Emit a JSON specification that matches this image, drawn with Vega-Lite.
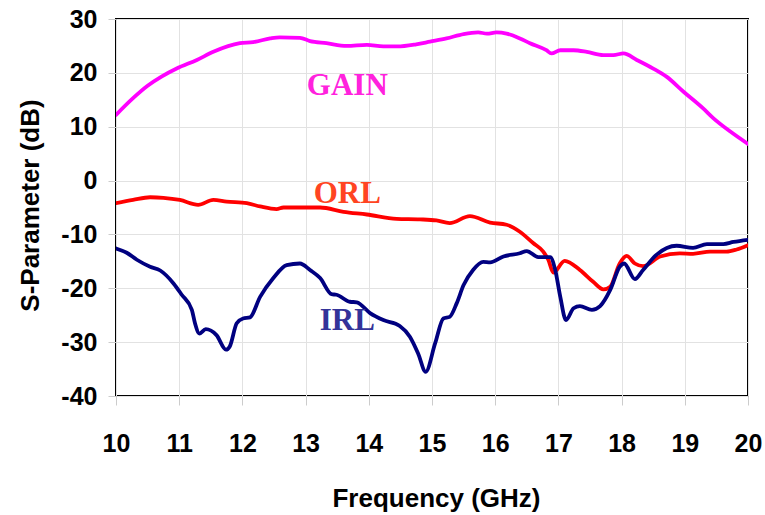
{
  "$schema": "https://vega.github.io/schema/vega-lite/v6.json",
  "width": 632,
  "height": 377,
  "autosize": {"type": "none"},
  "padding": {"left": 116, "top": 19, "right": 17, "bottom": 119},
  "background": "white",
  "config": {
    "view": {"stroke": "black", "strokeWidth": 2},
    "axis": {
      "labelFont": "Liberation Sans",
      "titleFont": "Liberation Sans",
      "labelFontWeight": "bold",
      "titleFontWeight": "bold",
      "labelColor": "black",
      "titleColor": "black",
      "gridColor": "#e2e2e2",
      "gridWidth": 1,
      "tickColor": "#cccccc",
      "domain": false
    }
  },
  "datasets": {
    "curves": [
      {"s": "GAIN", "f": 10.00, "v": 12.2}, {"s": "GAIN", "f": 10.27, "v": 15.3}, {"s": "GAIN", "f": 10.50, "v": 17.6},
      {"s": "GAIN", "f": 10.72, "v": 19.3}, {"s": "GAIN", "f": 10.96, "v": 20.8}, {"s": "GAIN", "f": 11.28, "v": 22.4},
      {"s": "GAIN", "f": 11.54, "v": 23.9}, {"s": "GAIN", "f": 11.96, "v": 25.5}, {"s": "GAIN", "f": 12.17, "v": 25.7},
      {"s": "GAIN", "f": 12.44, "v": 26.4}, {"s": "GAIN", "f": 12.59, "v": 26.6}, {"s": "GAIN", "f": 12.91, "v": 26.5},
      {"s": "GAIN", "f": 13.07, "v": 25.9}, {"s": "GAIN", "f": 13.33, "v": 25.5}, {"s": "GAIN", "f": 13.65, "v": 25.0},
      {"s": "GAIN", "f": 13.97, "v": 25.2}, {"s": "GAIN", "f": 14.23, "v": 24.9}, {"s": "GAIN", "f": 14.45, "v": 24.9},
      {"s": "GAIN", "f": 14.75, "v": 25.3}, {"s": "GAIN", "f": 14.97, "v": 25.8}, {"s": "GAIN", "f": 15.23, "v": 26.4},
      {"s": "GAIN", "f": 15.50, "v": 27.2}, {"s": "GAIN", "f": 15.73, "v": 27.5}, {"s": "GAIN", "f": 15.87, "v": 27.3},
      {"s": "GAIN", "f": 16.02, "v": 27.5}, {"s": "GAIN", "f": 16.18, "v": 27.3}, {"s": "GAIN", "f": 16.39, "v": 26.4},
      {"s": "GAIN", "f": 16.55, "v": 25.5}, {"s": "GAIN", "f": 16.81, "v": 24.2}, {"s": "GAIN", "f": 16.89, "v": 23.6},
      {"s": "GAIN", "f": 17.03, "v": 24.2}, {"s": "GAIN", "f": 17.24, "v": 24.2}, {"s": "GAIN", "f": 17.45, "v": 23.9},
      {"s": "GAIN", "f": 17.71, "v": 23.3}, {"s": "GAIN", "f": 17.87, "v": 23.3}, {"s": "GAIN", "f": 18.03, "v": 23.6},
      {"s": "GAIN", "f": 18.24, "v": 22.4}, {"s": "GAIN", "f": 18.50, "v": 20.8}, {"s": "GAIN", "f": 18.71, "v": 19.3},
      {"s": "GAIN", "f": 18.98, "v": 16.5}, {"s": "GAIN", "f": 19.29, "v": 13.4}, {"s": "GAIN", "f": 19.45, "v": 11.6},
      {"s": "GAIN", "f": 19.72, "v": 9.1}, {"s": "GAIN", "f": 20.00, "v": 6.8},

      {"s": "ORL", "f": 10.00, "v": -4.2}, {"s": "ORL", "f": 10.27, "v": -3.6}, {"s": "ORL", "f": 10.54, "v": -3.1},
      {"s": "ORL", "f": 10.75, "v": -3.2}, {"s": "ORL", "f": 11.01, "v": -3.6}, {"s": "ORL", "f": 11.30, "v": -4.5},
      {"s": "ORL", "f": 11.54, "v": -3.6}, {"s": "ORL", "f": 11.75, "v": -3.9}, {"s": "ORL", "f": 12.07, "v": -4.2},
      {"s": "ORL", "f": 12.28, "v": -4.8}, {"s": "ORL", "f": 12.54, "v": -5.3}, {"s": "ORL", "f": 12.65, "v": -5.0},
      {"s": "ORL", "f": 13.23, "v": -5.0}, {"s": "ORL", "f": 13.60, "v": -5.8}, {"s": "ORL", "f": 13.97, "v": -6.3},
      {"s": "ORL", "f": 14.44, "v": -7.1}, {"s": "ORL", "f": 14.81, "v": -7.2}, {"s": "ORL", "f": 15.07, "v": -7.4},
      {"s": "ORL", "f": 15.28, "v": -7.9}, {"s": "ORL", "f": 15.60, "v": -6.6}, {"s": "ORL", "f": 15.92, "v": -7.8},
      {"s": "ORL", "f": 16.18, "v": -8.2}, {"s": "ORL", "f": 16.39, "v": -9.5}, {"s": "ORL", "f": 16.60, "v": -11.6},
      {"s": "ORL", "f": 16.76, "v": -13.2}, {"s": "ORL", "f": 16.84, "v": -14.7}, {"s": "ORL", "f": 16.92, "v": -17.1},
      {"s": "ORL", "f": 17.10, "v": -14.9}, {"s": "ORL", "f": 17.34, "v": -16.6}, {"s": "ORL", "f": 17.55, "v": -18.8},
      {"s": "ORL", "f": 17.71, "v": -20.2}, {"s": "ORL", "f": 17.82, "v": -19.7}, {"s": "ORL", "f": 17.97, "v": -15.4},
      {"s": "ORL", "f": 18.08, "v": -14.0}, {"s": "ORL", "f": 18.21, "v": -15.4}, {"s": "ORL", "f": 18.34, "v": -15.9},
      {"s": "ORL", "f": 18.61, "v": -14.1}, {"s": "ORL", "f": 18.92, "v": -13.5}, {"s": "ORL", "f": 19.13, "v": -13.6},
      {"s": "ORL", "f": 19.40, "v": -13.2}, {"s": "ORL", "f": 19.66, "v": -13.2}, {"s": "ORL", "f": 19.82, "v": -12.8},
      {"s": "ORL", "f": 20.00, "v": -12.0},

      {"s": "IRL", "f": 10.00, "v": -12.6}, {"s": "IRL", "f": 10.17, "v": -13.4}, {"s": "IRL", "f": 10.33, "v": -14.7},
      {"s": "IRL", "f": 10.54, "v": -16.0}, {"s": "IRL", "f": 10.70, "v": -16.7}, {"s": "IRL", "f": 10.91, "v": -19.1},
      {"s": "IRL", "f": 11.04, "v": -21.2}, {"s": "IRL", "f": 11.20, "v": -24.0}, {"s": "IRL", "f": 11.25, "v": -26.5},
      {"s": "IRL", "f": 11.32, "v": -28.4}, {"s": "IRL", "f": 11.42, "v": -27.6}, {"s": "IRL", "f": 11.59, "v": -28.7},
      {"s": "IRL", "f": 11.74, "v": -31.4}, {"s": "IRL", "f": 11.80, "v": -30.8}, {"s": "IRL", "f": 11.91, "v": -26.5},
      {"s": "IRL", "f": 12.01, "v": -25.6}, {"s": "IRL", "f": 12.12, "v": -25.4}, {"s": "IRL", "f": 12.28, "v": -21.6},
      {"s": "IRL", "f": 12.49, "v": -18.1}, {"s": "IRL", "f": 12.70, "v": -15.7}, {"s": "IRL", "f": 12.91, "v": -15.4},
      {"s": "IRL", "f": 13.07, "v": -16.6}, {"s": "IRL", "f": 13.23, "v": -18.1}, {"s": "IRL", "f": 13.41, "v": -21.1},
      {"s": "IRL", "f": 13.49, "v": -21.2}, {"s": "IRL", "f": 13.70, "v": -22.5}, {"s": "IRL", "f": 13.81, "v": -22.6},
      {"s": "IRL", "f": 14.02, "v": -24.6}, {"s": "IRL", "f": 14.23, "v": -25.9}, {"s": "IRL", "f": 14.49, "v": -27.0},
      {"s": "IRL", "f": 14.65, "v": -29.0}, {"s": "IRL", "f": 14.78, "v": -32.1}, {"s": "IRL", "f": 14.90, "v": -35.5},
      {"s": "IRL", "f": 15.05, "v": -30.2}, {"s": "IRL", "f": 15.18, "v": -25.6}, {"s": "IRL", "f": 15.28, "v": -25.3},
      {"s": "IRL", "f": 15.39, "v": -22.8}, {"s": "IRL", "f": 15.50, "v": -19.4}, {"s": "IRL", "f": 15.65, "v": -16.6},
      {"s": "IRL", "f": 15.81, "v": -15.1}, {"s": "IRL", "f": 15.92, "v": -15.2}, {"s": "IRL", "f": 16.13, "v": -14.1},
      {"s": "IRL", "f": 16.39, "v": -13.5}, {"s": "IRL", "f": 16.50, "v": -13.1}, {"s": "IRL", "f": 16.68, "v": -14.2},
      {"s": "IRL", "f": 16.87, "v": -14.2}, {"s": "IRL", "f": 16.95, "v": -16.6}, {"s": "IRL", "f": 17.03, "v": -21.6},
      {"s": "IRL", "f": 17.12, "v": -25.9}, {"s": "IRL", "f": 17.24, "v": -23.7}, {"s": "IRL", "f": 17.34, "v": -23.3},
      {"s": "IRL", "f": 17.53, "v": -24.0}, {"s": "IRL", "f": 17.66, "v": -23.3}, {"s": "IRL", "f": 17.82, "v": -20.3},
      {"s": "IRL", "f": 17.97, "v": -16.0}, {"s": "IRL", "f": 18.04, "v": -15.4}, {"s": "IRL", "f": 18.21, "v": -18.3},
      {"s": "IRL", "f": 18.34, "v": -16.6}, {"s": "IRL", "f": 18.55, "v": -13.8}, {"s": "IRL", "f": 18.87, "v": -12.1},
      {"s": "IRL", "f": 19.13, "v": -12.5}, {"s": "IRL", "f": 19.35, "v": -11.8}, {"s": "IRL", "f": 19.61, "v": -11.8},
      {"s": "IRL", "f": 19.77, "v": -11.4}, {"s": "IRL", "f": 20.00, "v": -11.0}
    ],
    "labels": [
      {"t": "GAIN", "f": 13.66, "v": 15.9},
      {"t": "ORL", "f": 13.66, "v": -4.2},
      {"t": "IRL", "f": 13.66, "v": -27.8}
    ]
  },
  "layer": [
    {
      "data": {"name": "curves"},
      "mark": {"type": "line", "strokeWidth": 3.8, "interpolate": "monotone", "strokeJoin": "round", "strokeCap": "round", "clip": true},
      "encoding": {
        "x": {
          "field": "f", "type": "quantitative",
          "scale": {"domain": [10, 20], "nice": false, "zero": false},
          "axis": {
            "values": [10, 11, 12, 13, 14, 15, 16, 17, 18, 19, 20],
            "labelExpr": "datum.value + ''",
            "title": "Frequency (GHz)",
            "labelFontSize": 25,
            "labelPadding": 26,
            "tickSize": 9,
            "labelFlush": false,
            "titleFontSize": 26,
            "titleBaseline": "alphabetic",
            "titleAnchor": "middle",
            "titleX": 320,
            "titleY": 110
          }
        },
        "y": {
          "field": "v", "type": "quantitative",
          "scale": {"domain": [-40, 30], "nice": false, "zero": false},
          "axis": {
            "values": [-40, -30, -20, -10, 0, 10, 20, 30],
            "labelExpr": "datum.value + ''",
            "title": "S-Parameter (dB)",
            "labelFontSize": 25,
            "labelPadding": 11,
            "tickSize": 8,
            "labelFlush": false,
            "titleFontSize": 26,
            "titleAngle": -90,
            "titleBaseline": "alphabetic",
            "titleAlign": "center",
            "titleX": -78,
            "titleY": 186
          }
        },
        "color": {
          "field": "s", "type": "nominal",
          "scale": {"domain": ["GAIN", "ORL", "IRL"], "range": ["#ff00ff", "#ff0000", "#000080"]},
          "legend": null
        },
        "detail": {"field": "s"}
      }
    },
    {
      "data": {"name": "labels"},
      "mark": {"type": "text", "font": "Liberation Serif", "fontWeight": "bold", "fontSize": 31, "align": "center", "baseline": "alphabetic"},
      "encoding": {
        "x": {"field": "f", "type": "quantitative"},
        "y": {"field": "v", "type": "quantitative"},
        "text": {"field": "t"},
        "color": {
          "field": "t", "type": "nominal",
          "scale": {"domain": ["GAIN", "ORL", "IRL"], "range": ["#ff22dd", "#ff4422", "#333399"]},
          "legend": null
        }
      }
    }
  ],
  "resolve": {"scale": {"color": "independent"}}
}
